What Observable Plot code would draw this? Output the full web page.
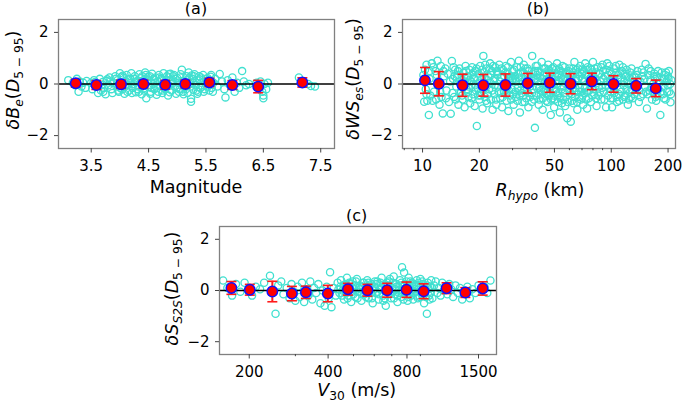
<!DOCTYPE html>
<html>
<head>
<meta charset="utf-8">
<script src="https://cdn.jsdelivr.net/npm/d3@7"></script>
<script src="https://cdn.jsdelivr.net/npm/@observablehq/plot@0.6"></script>
<style>
  html, body { margin: 0; padding: 0; background: white; }
  #chart { position: relative; width: 685px; height: 403px; background: white; }
  #chart svg { position: absolute; }
</style>
</head>
<body>
<div id="chart"></div>
<script>
// ---------- Binned means and error bars ----------
const magA  = [3.23, 3.59, 4.02, 4.41, 4.79, 5.14, 5.56, 5.96, 6.41, 7.18];
const meanA = [0.03, -0.04, -0.01, 0.0, -0.03, 0.0, 0.06, -0.04, -0.10, 0.06];
const errA  = [0.15, 0.17, 0.16, 0.15, 0.17, 0.15, 0.16, 0.17, 0.24, 0.18];

const rhypoB = [10.3, 12.2, 16.3, 21.0, 27.5, 36.1, 47.2, 60.9, 78.9, 102.8, 135.5, 172];
const meanB  = [0.14, 0.01, -0.05, -0.05, -0.04, 0.03, 0.05, 0.01, 0.10, 0.0, -0.07, -0.17];
const errB   = [0.50, 0.47, 0.43, 0.42, 0.43, 0.38, 0.37, 0.39, 0.32, 0.32, 0.28, 0.32];

const v30C  = [171, 201, 245, 291, 329, 399, 476, 565, 672, 797, 926, 1133, 1336, 1556];
const meanC = [0.10, 0.03, -0.04, -0.12, -0.07, -0.12, 0.05, 0.01, 0.01, 0.03, -0.03, 0.09, -0.08, 0.08];
const errC  = [0.25, 0.21, 0.40, 0.28, 0.24, 0.32, 0.23, 0.23, 0.27, 0.30, 0.29, 0.21, 0.19, 0.26];

// ---------- Tick labels ----------
const yTicks = [-2, 0, 2];
const xTicksA = [3.5, 4.5, 5.5, 6.5, 7.5];
const xTicksB = [10, 20, 50, 100, 200];
const xMinorB = [8, 9, 30, 40, 60, 70, 80, 90];
const xTicksC = [200, 400, 800, 1500];
const xMinorC = [300, 500, 600, 700, 900];

// ---------- Residual scatter ----------
const residA = [
[3.1,0.15],[3.18,0.05],[3.22,-0.05],[3.25,0.2],[3.28,-0.3],[3.3,0.1],[3.33,-0.1],[3.36,0.05],[3.4,-0.15],[3.42,0.12],
[3.5,0.05],[3.52,-0.2],[3.55,0.15],[3.58,-0.1],[3.6,0.0],[3.62,-0.35],[3.65,0.2],[3.67,-0.25],[3.7,0.08],[3.72,-0.15],[3.75,-0.4],[3.77,0.12],[3.8,-0.05],[3.82,0.25],[3.85,-0.2],[3.88,0.05],
[3.92,0.3],[3.94,-0.1],[3.96,0.15],[3.98,-0.3],[4.0,0.42],[4.02,0.05],[4.04,-0.2],[4.06,0.25],[4.08,-0.38],[4.1,0.1],[4.12,0.35],[4.14,-0.05],[4.16,-0.25],[4.18,0.2],[4.2,0.42],[4.22,-0.15],[4.24,0.0],[4.26,0.3],[4.28,-0.32],[4.3,0.12],
[4.32,-0.1],[4.34,0.38],[4.36,0.22],[4.38,-0.4],[4.4,0.05],[4.42,-0.25],[4.44,0.45],[4.46,-0.55],[4.48,0.15],[4.5,-0.12],[4.52,0.3],[4.54,-0.3],[4.56,0.4],[4.58,0.0],[4.6,-0.2],[4.62,0.25],[4.64,-0.42],[4.66,0.1],[4.68,0.35],[4.7,-0.08],
[4.72,0.2],[4.74,-0.35],[4.76,0.42],[4.78,-0.15],[4.8,0.08],[4.82,0.3],[4.84,-0.45],[4.86,-0.05],[4.88,0.4],[4.9,-0.25],[4.92,0.15],[4.94,0.35],[4.96,-0.1],[4.98,-0.38],[5.0,0.22],[5.02,0.05],[5.04,-0.2],[5.06,0.38],[5.08,0.55],[5.1,-0.3],
[5.12,0.12],[5.14,-0.12],[5.16,0.3],[5.18,-0.35],[5.2,0.45],[5.22,0.0],[5.24,-0.57],[5.24,-0.69],[5.26,0.2],[5.28,-0.22],[5.3,0.38],[5.32,-0.05],[5.34,0.15],[5.36,-0.3],[5.38,0.3],[5.4,-0.15],[5.42,0.05],[5.45,0.35],[5.48,-0.2],[5.5,0.2],[5.52,-0.1],[5.55,0.1],[5.58,0.28],
[5.6,-0.15],[5.63,0.05],[5.66,0.2],[5.7,-0.1],[5.74,0.39],[5.78,0.1],[5.82,-0.2],[5.84,-0.52],[5.88,0.15],[5.92,-0.05],[5.96,0.25],[6.0,-0.3],[6.04,0.05],[6.08,-0.15],[6.13,0.5],[6.16,0.1],[6.2,-0.05],[6.25,0.0],
[6.38,0.05],[6.42,-0.1],[6.45,0.1],[6.48,-0.3],[6.5,-0.45],[6.5,-0.55],[6.52,0.0],[6.55,-0.2],[6.58,0.05],
[7.12,0.25],[7.2,0.1],[7.28,0.0],[7.33,-0.08],[7.4,-0.1],
[3.95,0.0],[4.01,-0.15],[4.07,0.1],[4.13,-0.3],[4.19,0.05],[4.25,0.2],[4.31,-0.2],[4.37,0.1],[4.43,-0.05],[4.49,0.28],[4.55,-0.15],[4.61,0.05],[4.67,-0.3],[4.73,0.15],[4.79,-0.2],[4.85,0.25],[4.91,0.0],[4.97,0.2],[5.03,-0.3],[5.09,0.1],[5.15,-0.2],[5.21,0.25],[5.27,0.05],[5.33,-0.25],[5.39,0.18],[5.46,-0.3],[5.53,0.22],[5.6,0.1],[3.68,-0.05],[3.78,0.18],[4.05,0.32],[4.45,0.35],[4.85,0.38],[5.25,0.33],
[3.93,0.2],[3.97,-0.25],[4.03,0.28],[4.09,-0.1],[4.15,0.18],[4.21,-0.35],[4.27,0.08],[4.33,-0.3],[4.39,0.3],[4.41,-0.18],[4.47,0.1],[4.53,-0.38],[4.59,0.2],[4.63,-0.1],[4.69,0.25],[4.75,-0.25],[4.81,0.15],[4.87,-0.32],[4.93,0.3],[4.99,-0.15],[5.05,0.25],[5.11,-0.4],[5.17,0.15],[5.23,-0.1],[5.29,0.3],[5.35,-0.38],[5.41,0.25],[5.44,-0.1],[5.49,0.05],[5.56,-0.25],[5.59,0.35],[5.62,-0.3],[3.57,0.08],[3.71,-0.3],[3.83,0.1],[3.87,-0.35]
];

const residB = [
[10.1,0.35],[10.2,-0.69],[10.3,0.55],[10.4,-0.2],[10.5,0.75],[10.6,-0.65],[10.8,-1.2],[10.9,0.2],[11.0,-0.45],[11.2,0.8],[11.4,0.65],[11.5,-0.3],[11.7,0.5],[11.8,-0.6],[12.0,0.9],[12.1,0.1],[12.3,-0.8],[12.5,0.7],[12.6,-0.5],[12.8,-1.14],[13.0,0.3],[13.2,0.6],[13.4,-0.25],
[13.6,0.4],[13.8,-0.7],[14.1,-1.15],[14.3,0.89],[14.5,0.2],[14.7,-0.5],[14.9,0.55],[15.1,-0.1],[15.3,0.35],[15.5,-0.8],[15.7,0.6],[15.9,-0.35],[16.1,0.15],[16.3,-0.6],[16.5,0.45],[16.7,-0.9],[16.9,0.7],[17.1,-0.2],[17.3,0.3],[17.5,-0.5],[17.7,0.55],[17.9,-0.75],[18.1,0.1],[18.3,0.65],[18.5,-0.4],[18.7,0.25],[18.9,-0.85],[19.1,0.5],[19.4,-1.63],[19.6,-0.15],[19.8,0.4],[20.0,-0.6],
[20.2,0.7],[20.4,-0.3],[20.6,0.2],[20.8,-0.95],[21.0,1.09],[21.2,0.45],[21.4,-0.5],[21.6,0.0],[21.8,0.6],[22.0,-0.75],[22.3,0.3],[22.5,-0.2],[22.8,0.8],[23.0,-0.6],[23.3,0.5],[23.5,-1.0],[23.8,0.15],[24.0,-0.4],[24.3,0.65],[24.6,-0.8],[24.9,0.35],[25.2,-0.1],[25.5,0.75],[25.8,-0.55],[26.1,0.25],[26.4,-0.9],[26.7,0.55],[27.0,-0.3],[27.3,0.05],[27.6,0.7],[27.9,-0.65],[28.2,0.4],[28.5,-1.05],[28.8,0.2],[29.1,-0.45],[29.4,0.85],[29.7,-0.2],[30.0,0.5],
[30.4,-0.8],[30.8,0.3],[31.2,-0.5],[31.6,0.65],[32.0,-0.15],[32.4,0.9],[32.8,-1.1],[33.2,0.45],[33.6,-0.35],[34.0,0.1],[34.4,0.75],[34.8,-0.7],[35.2,0.3],[35.6,-0.25],[36.0,0.6],[36.4,-0.9],[36.8,0.2],[37.2,-0.5],[38.1,1.09],[38.5,0.4],[39.0,-0.6],[39.4,-1.7],[39.8,0.7],[40.3,-0.1],[40.8,0.5],[41.3,-0.8],[41.8,0.25],[42.3,-0.4],[42.8,0.85],[43.3,-1.0],[43.8,0.35],[44.3,-0.25],[44.8,0.6],[45.3,-0.65],[45.8,0.1],[46.3,0.75],[46.8,-0.45],[47.3,0.4],[47.8,-1.2],[48.3,0.2],[48.8,-0.55],[49.3,0.65],[49.8,-0.9],
[50.4,0.3],[51.0,-0.3],[51.6,0.8],[52.2,-0.7],[52.8,0.15],[53.4,-1.1],[54.0,0.5],[54.6,-0.2],[55.2,0.7],[55.8,-0.6],[56.4,0.25],[57.0,-0.85],[57.6,0.45],[58.5,-1.33],[59.2,0.05],[60.0,0.6],[61.0,-1.46],[61.7,-0.4],[62.4,0.35],[63.1,-0.75],[63.8,0.85],[64.5,-0.15],[65.3,0.55],[66.1,-1.0],[66.9,0.2],[67.7,-0.5],[68.5,0.7],[69.3,-0.3],[70.1,0.4],[71.0,-0.8],[71.9,0.1],[72.8,0.8],[73.7,-0.6],[74.5,-0.95],[75.4,0.3],[76.3,-0.25],[77.2,0.6],[78.1,-0.7],[79.0,0.45],
[80.0,0.85],[81.2,-0.4],[82.4,0.2],[83.6,-0.85],[84.8,0.65],[86.0,-0.1],[87.3,0.4],[88.6,-0.6],[89.9,0.75],[91.2,-0.3],[92.5,0.3],[93.9,-0.9],[95.3,0.8],[96.7,-0.15],[98.1,0.5],[99.5,-0.55],[101,-0.9],[102.5,0.2],[104,-0.35],[105.6,0.7],[107.2,-0.7],[108.8,0.35],[110.4,0.75],[112,-0.2],[113.7,0.5],[115.4,-0.6],[117.1,0.1],[118.8,-0.45],[120.6,0.55],[122.4,-0.8],[124.2,0.25],[126,-0.3],[128,0.6],
[130,-0.55],[132.5,0.3],[135,-0.2],[137.5,0.5],[140,-0.7],[142.5,0.1],[145,0.55],[147.5,-0.4],[150,0.2],[152,0.78],[154.5,-0.95],[157,0.35],[159.5,-0.25],[162,0.5],[164.5,-0.6],[167,0.0],[169.5,0.4],[172,-0.5],[175,0.3],[178,-0.2],[182,-1.2],[185,0.45],[188,-0.4],[191,0.2],[194,-0.6],[197,0.1],[200,0.3],[203,-0.3],[206,-0.71],[208,0.15],
[15.2,0.25],[16.0,-0.3],[16.8,0.1],[17.6,-0.1],[18.4,0.35],[19.2,-0.25],[20.1,0.05],[21.1,-0.2],[22.1,0.15],[23.1,0.35],[24.1,-0.05],[25.1,0.45],[26.0,-0.35],[27.1,0.3],[28.0,-0.15],[29.0,0.1],[30.1,-0.4],[31.0,0.2],[32.1,0.4],[33.0,-0.25],[34.1,-0.45],[35.0,0.05],[36.1,0.35],[37.0,-0.1],[38.0,-0.35],[39.2,0.2],[40.5,0.35],[41.5,-0.15],[42.6,0.05],[43.6,-0.3],[44.6,0.45],[45.6,-0.05],[46.6,0.2],[47.6,-0.35],[48.6,0.45],[49.6,-0.2],[50.7,0.1],[51.9,-0.45],[53.1,0.35],[54.3,-0.05],[55.5,0.2],[56.7,-0.35],[58.0,0.4],[59.6,-0.2],[61.3,0.15],[63.0,0.45],[64.9,-0.3],[66.5,0.4],[68.1,-0.15],[70.0,0.2],[72.0,-0.35],[74.0,0.55],[76.0,0.05],[78.0,0.25],[80.6,-0.2],[83.0,0.45],[85.4,-0.45],[88.0,0.1],[90.5,0.5],[93.2,-0.05],[96,0.35],[99,0.05],[103,-0.15],[106.5,0.45],[110,-0.4],[113,0.25],[116.5,-0.05],[120,0.3],[123,0.0],[127,-0.5],[131,0.05],[136,0.35],[141,-0.25],[146,0.3],[151,-0.1],[156,-0.4],[161,0.15],[166,-0.3],[171,0.2],[176,-0.45],[181,0.05],[187,-0.1],[193,0.35],[199,-0.05],
[14.0,0.1],[14.4,-0.35],[14.8,0.3],[15.0,-0.6],[15.4,0.5],[15.8,0.0],[16.2,-0.45],[16.6,0.25],[17.0,0.5],[17.4,-0.3],[17.8,0.15],[18.2,-0.55],[18.6,0.45],[19.0,-0.05],[19.3,0.6],[19.7,-0.45],[14.6,0.65],[16.4,-0.15],[17.2,0.05],[18.8,0.2],
[20.3,-0.45],[20.7,0.55],[21.3,0.25],[21.7,-0.65],[22.2,-0.4],[22.6,0.6],[22.9,0.05],[23.4,-0.25],[23.7,0.7],[24.2,0.2],[24.5,-0.6],[24.8,0.5],[25.3,-0.3],[25.7,0.1],[26.2,0.6],[26.6,-0.5],[27.2,-0.05],[27.5,0.45],[27.8,-0.4],[28.3,0.65],[28.7,-0.25],[29.2,0.3],[29.5,-0.6],[29.9,0.15],[21.5,0.75],
[30.2,0.2],[30.6,0.55],[31.1,-0.3],[31.4,0.1],[31.8,-0.65],[32.2,0.25],[32.6,-0.45],[33.1,0.65],[33.4,0.0],[33.8,-0.7],[34.2,0.45],[34.6,-0.2],[35.1,0.6],[35.4,-0.55],[35.8,0.15],[36.2,-0.35],[36.6,0.5],[37.5,0.25],[37.9,-0.7],[38.7,-0.2],[39.5,0.5],[40.0,-0.45],[40.6,0.7],[41.0,0.1],[41.6,-0.6],[42.0,0.45],[42.4,-0.25],[43.0,0.2],[43.5,-0.55],[44.0,0.6],[44.5,0.05],[45.0,-0.35],[45.5,0.4],[46.0,-0.7],[46.5,0.55],[47.0,-0.15],[47.5,0.15],[48.0,-0.6],[48.5,0.6],[49.0,0.0],[49.5,-0.45],
[50.2,-0.6],[50.9,0.55],[51.4,0.0],[52.0,0.4],[52.5,-0.35],[53.0,0.6],[53.7,-0.55],[54.2,0.25],[54.8,-0.75],[55.4,0.45],[56.0,-0.1],[56.6,0.65],[57.3,-0.5],[57.9,0.15],[58.8,-0.7],[59.4,0.5],[60.3,-0.35],[60.8,0.3],[61.9,-0.65],[62.7,0.6],[63.4,0.0],[64.1,-0.5],[65.0,0.2],[65.8,-0.7],[66.7,0.6],[67.4,-0.3],[68.3,0.3],[69.0,-0.6],[69.8,0.55],[70.6,-0.45],[71.5,0.5],[72.4,-0.15],[73.3,0.35],[74.2,-0.3],[75.0,0.65],[76.0,-0.55],[76.8,0.2],[77.7,-0.1],[78.6,0.55],[79.5,-0.45],
[80.3,0.3],[81.7,0.6],[82.9,-0.55],[84.2,0.05],[85.8,0.4],[87.0,-0.3],[88.3,0.65],[89.5,-0.15],[91.0,0.2],[92.0,-0.6],[93.5,0.55],[94.8,0.1],[96.3,-0.45],[97.7,0.7],[99.2,-0.3],[100.5,0.4],[102,-0.55],[103.5,0.6],[105,0.0],[106.8,-0.5],[108.4,0.2],[110.2,-0.65],[111.8,0.45],[113.5,-0.3],[115.2,0.65],[117,-0.5],[118.6,0.4],[120.3,-0.2],[122,0.1],[124,-0.6],[126,0.45],[128.5,-0.2],
[129.5,0.25],[133,-0.4],[138,0.15],[143,-0.5],[148,0.45],[153,-0.3],[158,0.6],[163,-0.15],[168,0.3],[173,-0.65],[177,0.5],[183,-0.3],[186,0.2],[190,-0.55],[195,0.45],[198,-0.3],[202,0.5],[205,0.0],[207,-0.4],[201,0.2],
[10.2,0.2],[10.5,-0.4],[10.9,0.5],[11.3,-0.65],[11.9,0.35],[12.4,-0.3],[12.9,0.5],[13.3,-0.55]
];

const residC = [
[159,0.39],[165,0.1],[172,-0.2],[178,0.25],[185,-0.05],[192,0.3],[198,0.0],[205,-0.2],[212,0.15],[220,0.05],[228,0.3],[240,0.58],[245,-0.1],[252,-0.91],[258,0.2],[265,0.35],[270,-0.15],[278,0.1],[285,-0.3],[290,0.25],[296,-0.05],[300,-0.4],[306,0.15],[312,-0.25],[318,0.3],[324,-0.45],[330,0.05],[336,-0.2],[342,0.35],[348,-0.35],[354,0.1],[360,-0.1],[367,0.25],[374,-0.5],[381,0.0],[388,-0.6],[395,0.15],[402,-0.3],[407,0.71],[412,-0.65],[420,0.1],[428,-0.2],[435,0.3],
[442,-0.1],[448,0.4],[454,0.0],[460,-0.35],[466,0.25],[472,0.5],[478,-0.2],[484,0.1],[490,-0.45],[496,0.35],[502,0.05],[508,-0.25],[515,0.45],[522,-0.05],[529,0.2],[536,-0.4],[543,0.3],[550,-0.15],[557,0.1],[564,0.4],[571,-0.3],[578,0.0],[585,0.25],[592,-0.5],[600,0.15],[608,-0.1],[616,0.35],[624,-0.35],[632,0.05],[640,0.5],[648,-0.2],[656,0.2],[664,-0.6],[672,0.3],[680,-0.05],[688,0.45],[696,-0.3],[704,0.1],[712,0.55],[720,-0.15],[728,0.25],[736,-0.45],[744,0.0],[752,0.4],[760,-0.25],[766,0.91],[772,0.15],[780,0.7],[788,-0.1],[796,0.35],[804,-0.4],[812,0.5],[820,0.05],[828,-0.2],[836,0.3],[845,-0.35],[854,0.2],[863,-0.05],[872,0.4],[881,-0.3],[890,0.1],[900,0.45],[910,-0.15],[920,0.25],[930,-0.5],[940,0.05],[953,-0.91],[960,0.3],[970,-0.2],[980,0.15],[990,0.4],
[445,0.15],[458,0.2],[470,-0.1],[482,0.3],[494,-0.05],[506,0.2],[518,-0.3],[531,0.05],[545,0.15],[558,-0.25],[570,0.3],[583,-0.1],[597,0.05],[611,0.25],[626,-0.15],[642,0.1],[658,-0.3],[674,0.2],[690,-0.15],[706,0.3],[722,0.05],[738,-0.2],[755,0.2],[770,-0.1],[785,0.25],[800,-0.15],[816,0.2],[832,0.0],[850,0.25],[868,-0.2],[886,0.3],[905,-0.05],[925,0.15],[945,-0.25],[965,0.1],[985,-0.1],
[438,0.05],[451,-0.2],[463,0.1],[475,-0.3],[487,0.25],[499,-0.15],[511,0.35],[524,0.1],[537,-0.1],[548,0.3],[561,-0.1],[574,0.15],[588,-0.3],[603,0.35],[618,-0.05],[634,0.3],[650,-0.4],[666,0.05],[682,0.35],[698,-0.05],[714,-0.3],[730,0.15],[746,-0.1],[762,0.3],[776,-0.35],[792,0.1],[808,-0.25],[824,0.35],[840,-0.1],[858,0.05],[876,0.2],[895,-0.25],[915,0.35],[935,-0.1],[955,0.2],[975,-0.35],[995,0.1],
[1000,-0.3],[1015,0.2],[1030,0.35],[1045,-0.1],[1060,0.1],[1075,-0.2],[1090,0.3],[1105,0.0],[1120,0.15],[1140,-0.15],[1160,0.25],[1180,0.05],[1200,-0.25],[1225,0.2],[1250,-0.1],[1275,0.1],[1300,-0.35],[1330,0.0],[1360,0.15],[1390,-0.3],[1420,0.05],[1460,-0.1],[1500,0.2],[1540,0.0],[1580,0.15],[1620,-0.1],[1666,0.39]
];

// ---------- Helpers ----------
const FONT = "DejaVu Sans";
const capSymbol = {
  draw(context, size) {
    const w = Math.sqrt(size / Math.PI);
    context.moveTo(-w, 0);
    context.lineTo(w, 0);
  }
};
const fmtY = d => d < 0 ? "\u2212" + Math.abs(d) : String(d);

function richText(svg, {x, y, rotate = false, size, parts}) {
  const t = d3.select(svg).append("text")
    .attr("transform", `translate(${x},${y})` + (rotate ? " rotate(-90)" : ""))
    .attr("text-anchor", "middle")
    .attr("font-family", FONT)
    .attr("font-size", size)
    .attr("fill", "black");
  let shifted = 0;
  for (const p of parts) {
    const ts = t.append("tspan").text(p.t);
    if (p.i) ts.attr("font-style", "italic");
    const target = p.sub ? size * 0.24 : 0;
    if (target !== shifted) { ts.attr("dy", target - shifted); shifted = target; }
    if (p.sub) ts.attr("font-size", size * 0.7);
  }
}

function panel({resid, xs, means, errs, xScale, ticks, minor, width, height, margins, left, top}) {
  const bins = xs.map((x, i) => ({x, y: means[i], lo: means[i] - errs[i], hi: means[i] + errs[i]}));
  const pts = resid.map(([x, y]) => ({x, y}));
  const marks = [
    Plot.dot(pts, {x: "x", y: "y", r: 3.6, stroke: "#40E0D0", strokeWidth: 1.3, fill: "none"}),
    Plot.ruleY([0], {stroke: "black", strokeWidth: 1.5}),
    Plot.ruleX(bins, {x: "x", y1: "lo", y2: "hi", stroke: "#ff1a1a", strokeWidth: 2}),
    Plot.dot(bins, {x: "x", y: "lo", symbol: capSymbol, r: 5, stroke: "#ff1a1a", strokeWidth: 1.6}),
    Plot.dot(bins, {x: "x", y: "hi", symbol: capSymbol, r: 5, stroke: "#ff1a1a", strokeWidth: 1.6}),
    Plot.dot(bins, {x: "x", y: "y", r: 5.2, fill: "#ff0000", stroke: "#1010ff", strokeWidth: 1.5}),
    Plot.frame({stroke: "#808080", strokeWidth: 1.3}),
    Plot.axisY({ticks: yTicks, tickFormat: fmtY, tickSize: 4, tickPadding: 6, label: null, stroke: "#444", fill: "black"}),
    Plot.axisX({ticks, tickFormat: d => String(d), tickSize: 4.5, tickPadding: 7, label: null, stroke: "#444", fill: "black"})
  ];
  if (minor) marks.push(Plot.axisX({ticks: minor, tickFormat: () => "", tickSize: 2.2, label: null, stroke: "#444"}));
  const svg = Plot.plot({
    width, height,
    marginLeft: margins[0], marginRight: margins[1], marginTop: margins[2], marginBottom: margins[3],
    x: xScale,
    y: {domain: [-2.5, 2.5]},
    style: {fontFamily: FONT, fontSize: "15px", background: "transparent", overflow: "visible"},
    marks
  });
  svg.style.left = left + "px";
  svg.style.top = top + "px";
  return svg;
}

const chart = document.getElementById("chart");

// Panel (a)
const svgA = panel({
  resid: residA, xs: magA, means: meanA, errs: errA,
  xScale: {type: "linear", domain: [2.93, 7.74]},
  ticks: xTicksA, minor: null,
  width: 340, height: 200, margins: [58, 6, 19, 52], left: 0, top: 0
});
chart.appendChild(svgA);
richText(svgA, {x: 196, y: 14, size: 16, parts: [{t: "(a)"}]});
richText(svgA, {x: 196, y: 192.5, size: 17.5, parts: [{t: "Magnitude"}]});
richText(svgA, {x: 18.5, y: 80, rotate: true, size: 17.5, parts: [
  {t: "δ", i: true}, {t: "B", i: true}, {t: "e", i: true, sub: true}, {t: "("}, {t: "D", i: true},
  {t: "5 − 95", sub: true}, {t: ")"}
]});

// Panel (b)
const svgB = panel({
  resid: residB, xs: rhypoB, means: meanB, errs: errB,
  xScale: {type: "log", domain: [7.83, 219]},
  ticks: xTicksB, minor: xMinorB,
  width: 345, height: 200, margins: [62, 10, 19, 52], left: 340, top: 0
});
chart.appendChild(svgB);
richText(svgB, {x: 198, y: 14, size: 16, parts: [{t: "(b)"}]});
richText(svgB, {x: 200, y: 195.5, size: 17.5, parts: [
  {t: "R", i: true}, {t: "hypo", i: true, sub: true}, {t: " (km)"}
]});
richText(svgB, {x: 18.5, y: 79, rotate: true, size: 17.5, parts: [
  {t: "δ", i: true}, {t: "WS", i: true}, {t: "es", i: true, sub: true}, {t: "("}, {t: "D", i: true},
  {t: "5 − 95", sub: true}, {t: ")"}
]});

// Panel (c)
const svgC = panel({
  resid: residC, xs: v30C, means: meanC, errs: errC,
  xScale: {type: "log", domain: [154, 1757]},
  ticks: xTicksC, minor: xMinorC,
  width: 420, height: 203, margins: [89, 54, 26, 49], left: 130, top: 200
});
chart.appendChild(svgC);
richText(svgC, {x: 226.7, y: 20.5, size: 16, parts: [{t: "(c)"}]});
richText(svgC, {x: 226.7, y: 195.5, size: 17.5, parts: [
  {t: "V", i: true}, {t: "30", sub: true}, {t: " (m/s)"}
]});
richText(svgC, {x: 48, y: 88.5, rotate: true, size: 17.5, parts: [
  {t: "δ", i: true}, {t: "S", i: true}, {t: "S2S", i: true, sub: true}, {t: "("}, {t: "D", i: true},
  {t: "5 − 95", sub: true}, {t: ")"}
]});
</script>
</body>
</html>
